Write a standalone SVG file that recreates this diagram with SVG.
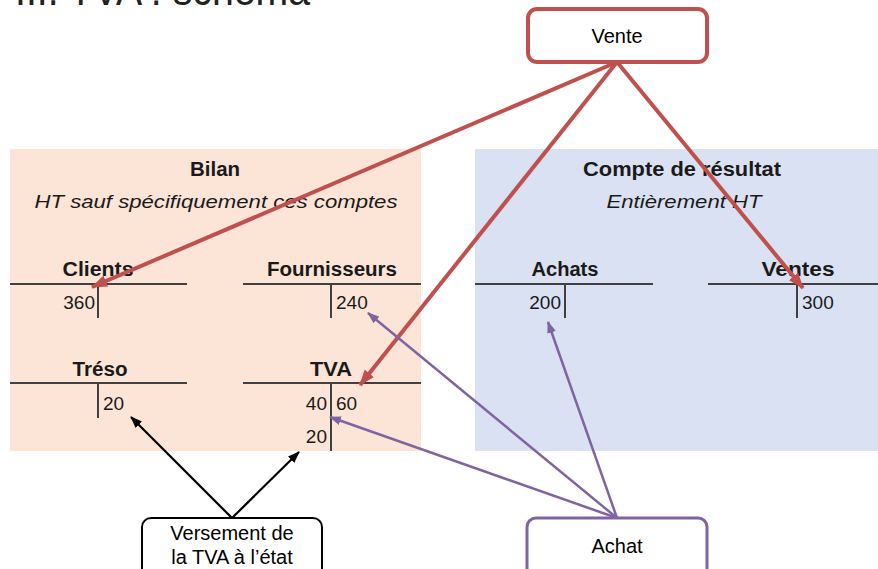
<svg xmlns="http://www.w3.org/2000/svg" width="878" height="569" viewBox="0 0 878 569">
<style>
  text { font-family: "Liberation Sans", Arial, sans-serif; fill: #1a1a1a; }
  .hd { font-weight: bold; font-size: 20px; text-anchor: middle; }
  .it { font-style: italic; font-size: 19px; text-anchor: middle; }
  .num { font-size: 19px; }
  .tl { stroke: #404040; stroke-width: 2; fill: none; }
  .node text { font-size: 20px; text-anchor: middle; fill: #000; }
  .red { stroke: #C0504D; stroke-width: 4; fill: none; marker-end: url(#ar); }
  .pur { stroke: #8064A2; stroke-width: 2.5; fill: none; marker-end: url(#ap); }
  .blk { stroke: #000; stroke-width: 2.2; fill: none; marker-end: url(#ab); }
</style>
<defs>
  <marker id="ar" markerUnits="userSpaceOnUse" markerWidth="16" markerHeight="12" refX="15" refY="6" orient="auto"><path d="M0,0 L16,6 L0,12 z" fill="#C0504D"/></marker>
  <marker id="ap" markerUnits="userSpaceOnUse" markerWidth="12" markerHeight="9" refX="11" refY="4.5" orient="auto"><path d="M0,0 L12,4.5 L0,9 z" fill="#8064A2"/></marker>
  <marker id="ab" markerUnits="userSpaceOnUse" markerWidth="12" markerHeight="9" refX="11" refY="4.5" orient="auto"><path d="M0,0 L12,4.5 L0,9 z" fill="#000"/></marker>
</defs>
<rect width="878" height="569" fill="#fff"/>
<text x="15" y="5" style="font-size:44px;fill:#222" textLength="295" lengthAdjust="spacingAndGlyphs">III. TVA : schéma</text>

<g id="bilan">
  <rect x="10" y="149" width="411" height="302" fill="#FCE4D6"/>
  <text class="hd" x="215" y="176" textLength="50" lengthAdjust="spacingAndGlyphs">Bilan</text>
  <text class="it" x="216" y="208" textLength="363" lengthAdjust="spacingAndGlyphs">HT sauf spécifiquement ces comptes</text>
</g>
<g id="resultat">
  <rect x="475" y="149" width="403" height="302" fill="#DAE1F2"/>
  <text class="hd" x="682" y="176" textLength="198" lengthAdjust="spacingAndGlyphs">Compte de résultat</text>
  <text class="it" x="684" y="208" textLength="155" lengthAdjust="spacingAndGlyphs">Entièrement HT</text>
</g>

<g id="clients">
  <text class="hd" x="98" y="276" textLength="71" lengthAdjust="spacingAndGlyphs">Clients</text>
  <path class="tl" d="M10,284 H187 M98,284 V318"/>
  <text class="num" x="95" y="309" text-anchor="end">360</text>
</g>
<g id="fournisseurs">
  <text class="hd" x="332" y="276" textLength="130" lengthAdjust="spacingAndGlyphs">Fournisseurs</text>
  <path class="tl" d="M243,284 H421 M331,284 V318"/>
  <text class="num" x="336" y="309">240</text>
</g>
<g id="treso">
  <text class="hd" x="100" y="376" textLength="55" lengthAdjust="spacingAndGlyphs">Tréso</text>
  <path class="tl" d="M10,383 H187 M98,383 V418"/>
  <text class="num" x="103" y="410">20</text>
</g>
<g id="tva">
  <text class="hd" x="331" y="376" textLength="42" lengthAdjust="spacingAndGlyphs">TVA</text>
  <path class="tl" d="M243,383 H421 M331,383 V451"/>
  <text class="num" x="327" y="410" text-anchor="end">40</text>
  <text class="num" x="336" y="410">60</text>
  <text class="num" x="327" y="443" text-anchor="end">20</text>
</g>
<g id="achats">
  <text class="hd" x="565" y="276" textLength="67" lengthAdjust="spacingAndGlyphs">Achats</text>
  <path class="tl" d="M475,284 H653 M565,284 V318"/>
  <text class="num" x="561" y="309" text-anchor="end">200</text>
</g>
<g id="ventes">
  <text class="hd" x="798" y="276" textLength="73" lengthAdjust="spacingAndGlyphs">Ventes</text>
  <path class="tl" d="M708,284 H878 M797,284 V318"/>
  <text class="num" x="802" y="309">300</text>
</g>

<g id="connectors">
  <line class="red" x1="617" y1="62" x2="92" y2="287"/>
  <line class="red" x1="617" y1="62" x2="360" y2="385"/>
  <line class="red" x1="617" y1="62" x2="803" y2="288"/>
  <line class="pur" x1="617" y1="518" x2="368" y2="313"/>
  <line class="pur" x1="617" y1="518" x2="548" y2="322"/>
  <line class="pur" x1="617" y1="518" x2="330" y2="417"/>
  <line class="blk" x1="232" y1="518" x2="131" y2="417"/>
  <line class="blk" x1="232" y1="518" x2="299" y2="452"/>
</g>

<g id="vente" class="node">
  <rect x="528" y="9" width="179" height="53" rx="9" fill="#fff" stroke="#C0504D" stroke-width="4"/>
  <text x="617" y="43">Vente</text>
</g>
<g id="versement" class="node">
  <rect x="142" y="518" width="180" height="60" rx="9" fill="#fff" stroke="#000" stroke-width="2"/>
  <text x="232" y="540">Versement de</text>
  <text x="232" y="564">la TVA à l’état</text>
</g>
<g id="achat" class="node">
  <rect x="527" y="518" width="180" height="60" rx="9" fill="#fff" stroke="#8064A2" stroke-width="3"/>
  <text x="617" y="553">Achat</text>
</g>
</svg>
